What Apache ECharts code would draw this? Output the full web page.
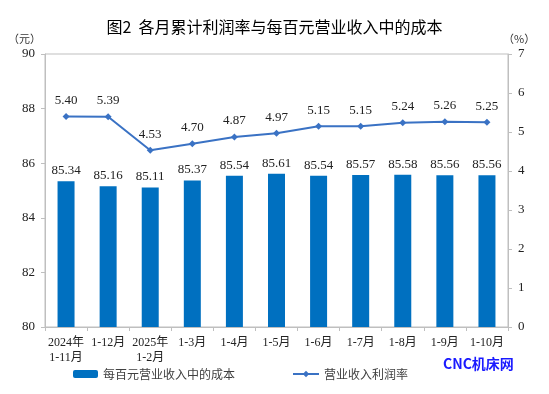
<!DOCTYPE html>
<html><head><meta charset="utf-8">
<script src="https://cdn.jsdelivr.net/npm/echarts@6/dist/echarts.min.js"></script>
<style>html,body{margin:0;padding:0;background:#fff}#c{width:549px;height:394px}</style>
</head><body><div id="c"></div>
<script>
const categories = ['2024年\n1-11月','1-12月','2025年\n1-2月','1-3月','1-4月','1-5月','1-6月','1-7月','1-8月','1-9月','1-10月'];
const costPer100 = [85.34,85.16,85.11,85.37,85.54,85.61,85.54,85.57,85.58,85.56,85.56];
const profitRate = [5.40,5.39,4.53,4.70,4.87,4.97,5.15,5.15,5.24,5.26,5.25];
const leftTicks = {min:80,max:90,interval:2};
const rightTicks = {min:0,max:7,interval:1};

const serif = "'Liberation Serif','Noto Sans CJK SC',serif";
const cjk = "'Noto Sans CJK SC',sans-serif";
const gray = '#bfbfbf';
const chart = echarts.init(document.getElementById('c'));
chart.setOption({
  animation:false,
  title:{text:'图2  各月累计利润率与每百元营业收入中的成本',left:'center',top:14,
    textStyle:{fontSize:16,fontWeight:'normal',color:'#000',fontFamily:cjk}},
  grid:{left:45,right:41,top:54,bottom:67,show:true,borderColor:gray,borderWidth:1},
  legend:[
    {data:['每百元营业收入中的成本'],left:68,top:363,itemWidth:25,itemHeight:8,
     textStyle:{fontSize:12,color:'#404040',fontFamily:cjk}},
    {data:['营业收入利润率'],left:287,top:363,itemWidth:26,itemHeight:8,
     textStyle:{fontSize:12,color:'#404040',fontFamily:cjk}}
  ],
  xAxis:{type:'category',data:categories,
    axisLine:{lineStyle:{color:gray}},
    axisTick:{show:true,lineStyle:{color:gray},length:4},
    axisLabel:{fontSize:12,color:'#222',fontFamily:serif,lineHeight:15,margin:8,interval:0}},
  yAxis:[
    {type:'value',min:leftTicks.min,max:leftTicks.max,interval:leftTicks.interval,
     splitLine:{show:false},axisLine:{show:true,lineStyle:{color:gray}},
     axisTick:{show:true,length:4,lineStyle:{color:gray}},
     axisLabel:{fontSize:13,color:'#222',fontFamily:serif,margin:10}},
    {type:'value',min:rightTicks.min,max:rightTicks.max,interval:rightTicks.interval,
     splitLine:{show:false},axisLine:{show:true,lineStyle:{color:gray}},
     axisTick:{show:true,length:4,lineStyle:{color:gray}},
     axisLabel:{fontSize:13,color:'#222',fontFamily:serif,margin:10}}
  ],
  series:[
    {name:'每百元营业收入中的成本',type:'bar',data:costPer100,barWidth:17,yAxisIndex:0,
     itemStyle:{color:'#0070c0'},
     label:{show:true,position:'top',distance:4,fontSize:13,color:'#222',fontFamily:serif,formatter:p=>p.value.toFixed(2)}},
    {name:'营业收入利润率',type:'line',data:profitRate,yAxisIndex:1,
     symbol:'diamond',symbolSize:7,lineStyle:{color:'#3a72c4',width:2},itemStyle:{color:'#3a72c4'},
     label:{show:true,position:'top',distance:6,fontSize:13,color:'#222',fontFamily:serif,formatter:p=>p.value.toFixed(2)}}
  ],
  graphic:[
    {type:'text',left:8,top:33,style:{text:'（元）',fontSize:11,fill:'#333',fontFamily:cjk}},
    {type:'text',left:503,top:33,style:{text:'（%）',fontSize:11,fill:'#333',fontFamily:cjk}},
    {type:'text',left:443,top:357,style:{text:'CNC机床网',fontSize:14,fontWeight:'bold',fill:'#1a1aff',fontFamily:cjk}}
  ]
});
</script></body></html>
